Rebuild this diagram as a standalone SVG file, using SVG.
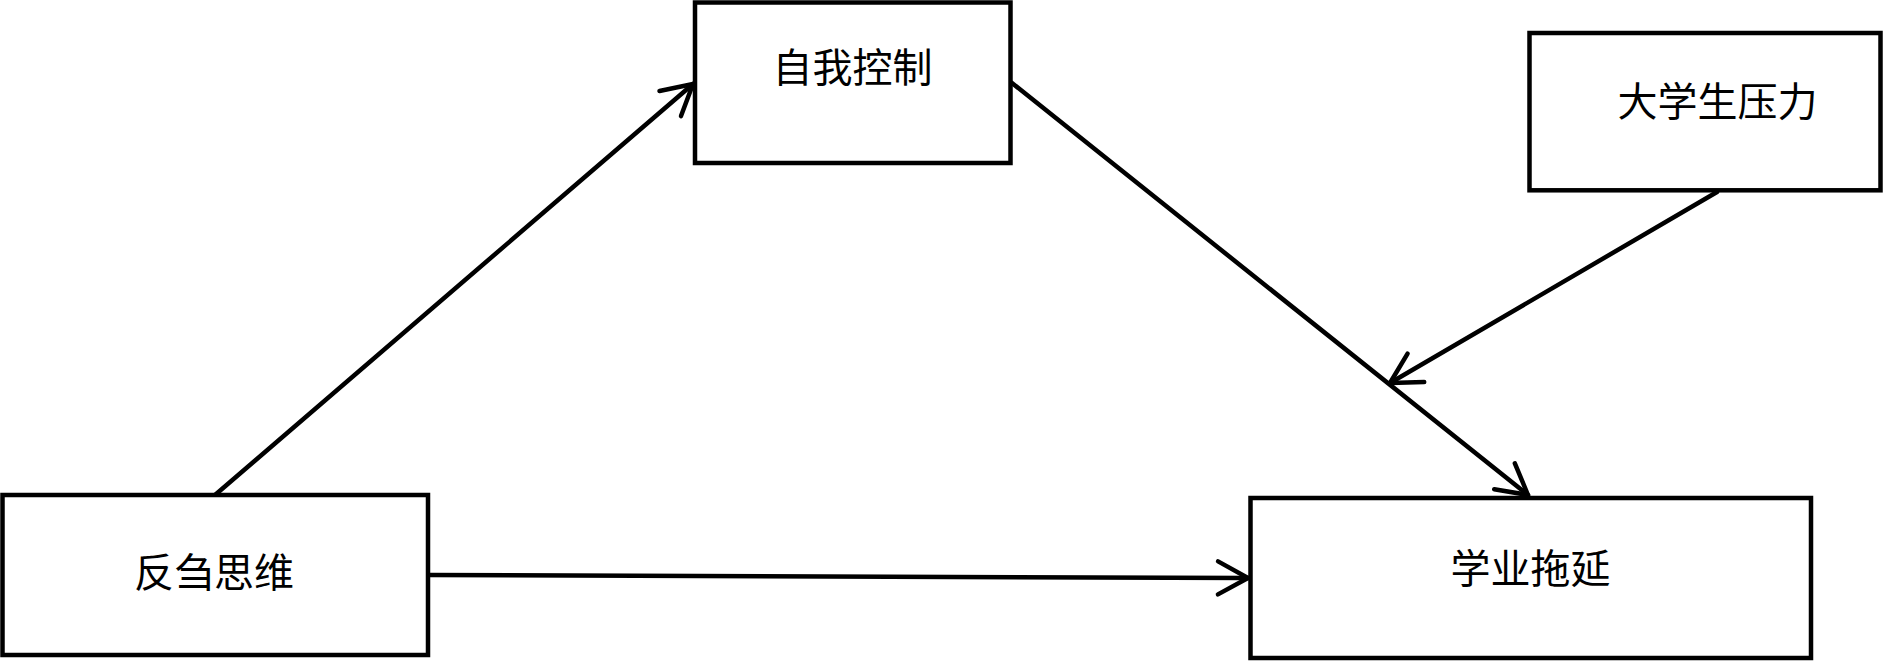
<svg xmlns="http://www.w3.org/2000/svg" width="1884" height="661" viewBox="0 0 1884 661">
  <defs>
    <style>
      .box { fill: #ffffff; stroke: #000000; stroke-width: 4.5; }
      .lbl { font-family: "Liberation Sans", "Noto Sans CJK SC", sans-serif; font-size: 40px; fill: #000000; text-anchor: middle; }
      .edge { fill: none; stroke: #000000; stroke-width: 4.5; stroke-linecap: round; }
    </style>
    <marker id="arrow" markerUnits="userSpaceOnUse" viewBox="-36 -22 40 44" markerWidth="40" markerHeight="44" refX="0" refY="0" orient="auto" overflow="visible">
      <path d="M -30 -16.5 L 0 0 L -30 16.5" fill="none" stroke="#000000" stroke-width="4.5" stroke-linecap="round" stroke-linejoin="round"/>
    </marker>
  </defs>
  <rect width="1884" height="661" fill="#ffffff"/>

  <g id="connectors">
    <line class="edge" x1="215" y1="495" x2="693" y2="84" marker-end="url(#arrow)"/>
    <line class="edge" x1="430" y1="575" x2="1248" y2="578" marker-end="url(#arrow)"/>
    <line class="edge" x1="1012" y1="83" x2="1528" y2="495" marker-end="url(#arrow)"/>
    <line class="edge" x1="1717" y1="192" x2="1390" y2="383" marker-end="url(#arrow)"/>
  </g>

  <g id="node-fanchu">
    <rect class="box" x="2.5" y="495" width="425.5" height="160"/>
    <text class="lbl" x="214" y="586.5">反刍思维</text>
  </g>
  <g id="node-ziwo">
    <rect class="box" x="695" y="2.5" width="315.5" height="160.5"/>
    <text class="lbl" x="852.5" y="81.5">自我控制</text>
  </g>
  <g id="node-yali">
    <rect class="box" x="1529.5" y="33" width="351" height="157.3"/>
    <text class="lbl" x="1717.5" y="116">大学生压力</text>
  </g>
  <g id="node-tuoyan">
    <rect class="box" x="1250.5" y="498" width="560.5" height="160"/>
    <text class="lbl" x="1530.5" y="583">学业拖延</text>
  </g>
</svg>
